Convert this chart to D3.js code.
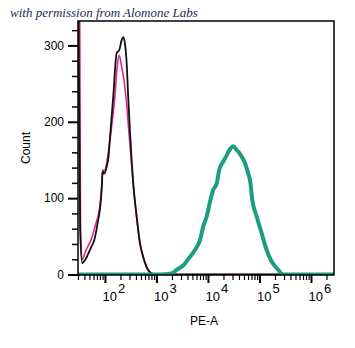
<!DOCTYPE html>
<html>
<head>
<meta charset="utf-8">
<script src="https://cdn.jsdelivr.net/npm/d3@7"></script>
<style>
  body { margin: 0; background: #fff; }
  svg { display: block; }
</style>
</head>
<body>
<div id="chart"></div>
<script>
// PE-A values (x) and counts (y)
const black_x = [30, 33, 36.2, 42.8, 53.4, 62, 72, 83.6, 87.5, 90.2, 96.9, 108, 118, 125, 145, 169, 190, 211, 227, 244, 264, 283, 305, 330, 355, 413, 479, 555, 645, 807, 1010, 2800000]
const black_y = [420, 60, 15, 21, 35, 45, 67, 98, 119, 135, 132, 141, 156, 178, 233, 290, 294, 307, 311, 303, 277, 233, 189, 150, 119, 76, 41, 23, 10, 1.5, 0, 0]

const pink_x = [32, 33.6, 35.7, 42.8, 53.4, 66.9, 77.4, 87.5, 90.2, 96.9, 104.5, 113, 135, 156, 173, 190, 211, 234, 256, 283, 315, 355, 413, 479, 555, 645, 807, 1010, 2800000]
const pink_y = [450, 60, 19, 32, 45, 67, 84, 119, 137, 135, 141, 154, 194, 233, 272, 287, 272, 255, 233, 198, 160, 117, 74, 40, 22, 9, 1, 0, 0]

const teal_x = [30, 1170, 1972, 2466, 3313, 4467, 5592, 6998, 8110, 9442, 10940, 12680, 14760, 16560, 19810, 23060, 26730, 30980, 36060, 41790, 52240, 60640, 65460, 72480, 88260, 110400, 138000, 172600, 231800, 289800, 2800000]
const teal_y = [0, 0, 1.5, 6, 12, 23, 32, 45, 63, 76, 95, 111, 119, 137, 148, 156, 164, 168, 163, 158, 146, 132, 124, 98, 76, 54, 32, 17, 6, 0, 0]

const y_ticks = [0, 100, 200, 300]
const x_decades = [2, 3, 4, 5, 6]

const width = 355
const height = 348
const margin = {top: 21, right: 21, bottom: 73, left: 78}

const svg = d3.select("#chart")
    .append("svg")
    .attr("width", width)
    .attr("height", height)

const x = d3.scaleLog()
    .domain([30, 2800000])
    .range([margin.left, width - margin.right])

const y = d3.scaleLinear()
    .domain([0, 332])
    .range([height - margin.bottom - 0.5, margin.top])

const layer_plot = svg.append("g")
const layer_axes = svg.append("g")
const layer_text = svg.append("g")

svg.append("defs").append("clipPath")
    .attr("id", "clip")
    .append("rect")
    .attr("x", margin.left)
    .attr("y", margin.top)
    .attr("width", width - margin.right - margin.left)
    .attr("height", height - margin.bottom - margin.top)

layer_plot.attr("clip-path", "url(#clip)")

const line = d3.line()
    .x(d => x(d[0]))
    .y(d => y(d[1]))
    .curve(d3.curveMonotoneX)

function add_series(xs, ys, color, w){
    layer_plot.append("path")
        .datum(d3.zip(xs, ys))
        .attr("fill", "none")
        .attr("stroke", color)
        .attr("stroke-width", w)
        .attr("stroke-linejoin", "round")
        .attr("d", line)
}

add_series(pink_x, pink_y, "#e6288e", 1.6)
add_series(black_x, black_y, "#111111", 1.8)
add_series(teal_x, teal_y, "#1b9e80", 4)

// frame
layer_axes.append("rect")
    .attr("x", margin.left)
    .attr("y", margin.top)
    .attr("width", width - margin.right - margin.left)
    .attr("height", height - margin.bottom - margin.top)
    .attr("fill", "none")
    .attr("stroke", "#000")
    .attr("stroke-width", 1.5)

// y axis
const y_minor = d3.range(0, 340, 20).filter(v => v % 100 !== 0 && y(v) >= margin.top)
layer_axes.append("g")
    .attr("transform", `translate(${margin.left},0)`)
    .call(d3.axisLeft(y).tickValues(y_minor).tickSize(6).tickFormat(""))
    .call(g => g.select(".domain").remove())
    .call(g => g.selectAll("line").attr("stroke-width", 1.5))

layer_axes.append("g")
    .attr("transform", `translate(${margin.left},0)`)
    .call(d3.axisLeft(y).tickValues(y_ticks).tickSize(10).tickPadding(4))
    .call(g => g.select(".domain").remove())
    .call(g => g.selectAll("line").attr("stroke-width", 2))
    .call(g => g.selectAll("text")
        .style("font-family", "Liberation Sans, Arial, sans-serif")
        .style("font-size", "12px")
        .attr("fill", "#000"))

// x axis
const x_minor = []
for (let e = 1; e <= 6; e++) {
    for (let m = 2; m <= 9; m++) {
        const v = m * Math.pow(10, e)
        if (v >= 30 && v <= 2800000) x_minor.push(v)
    }
}
const x_base = height - margin.bottom
layer_axes.append("g")
    .attr("transform", `translate(0,${x_base})`)
    .call(d3.axisBottom(x).tickValues(x_minor).tickSize(5).tickFormat(""))
    .call(g => g.select(".domain").remove())
    .call(g => g.selectAll("line").attr("stroke-width", 1.2))

layer_axes.append("g")
    .attr("transform", `translate(0,${x_base})`)
    .call(d3.axisBottom(x).tickValues(x_decades.map(e => Math.pow(10, e))).tickSize(8).tickFormat(""))
    .call(g => g.select(".domain").remove())
    .call(g => g.selectAll("line").attr("stroke-width", 2))

const x_labels = layer_text.selectAll("text.xl")
    .data(x_decades)
    .join("text")
    .attr("class", "xl")
    .attr("x", d => x(Math.pow(10, d)) - 2.5)
    .attr("y", 301)
    .style("font-family", "Liberation Sans, Arial, sans-serif")
    .style("font-size", "13px")
    .attr("fill", "#000")
x_labels.append("tspan").text("10")
x_labels.append("tspan")
    .attr("dy", -8)
    .attr("dx", 1)
    .style("font-size", "13px")
    .text(d => d)

layer_text.append("text")
    .attr("x", 204)
    .attr("y", 325)
    .attr("text-anchor", "middle")
    .style("font-family", "Liberation Sans, Arial, sans-serif")
    .style("font-size", "12px")
    .text("PE-A")

layer_text.append("text")
    .attr("transform", `translate(30,${(margin.top + x_base) / 2}) rotate(-90)`)
    .attr("text-anchor", "middle")
    .style("font-family", "Liberation Sans, Arial, sans-serif")
    .style("font-size", "12px")
    .text("Count")

layer_text.append("text")
    .attr("x", 10)
    .attr("y", 17)
    .style("font-family", "Liberation Serif, serif")
    .style("font-style", "italic")
    .style("font-size", "13px")
    .attr("fill", "#1a2b5e")
    .text("with permission from Alomone Labs")
</script>
</body>
</html>
